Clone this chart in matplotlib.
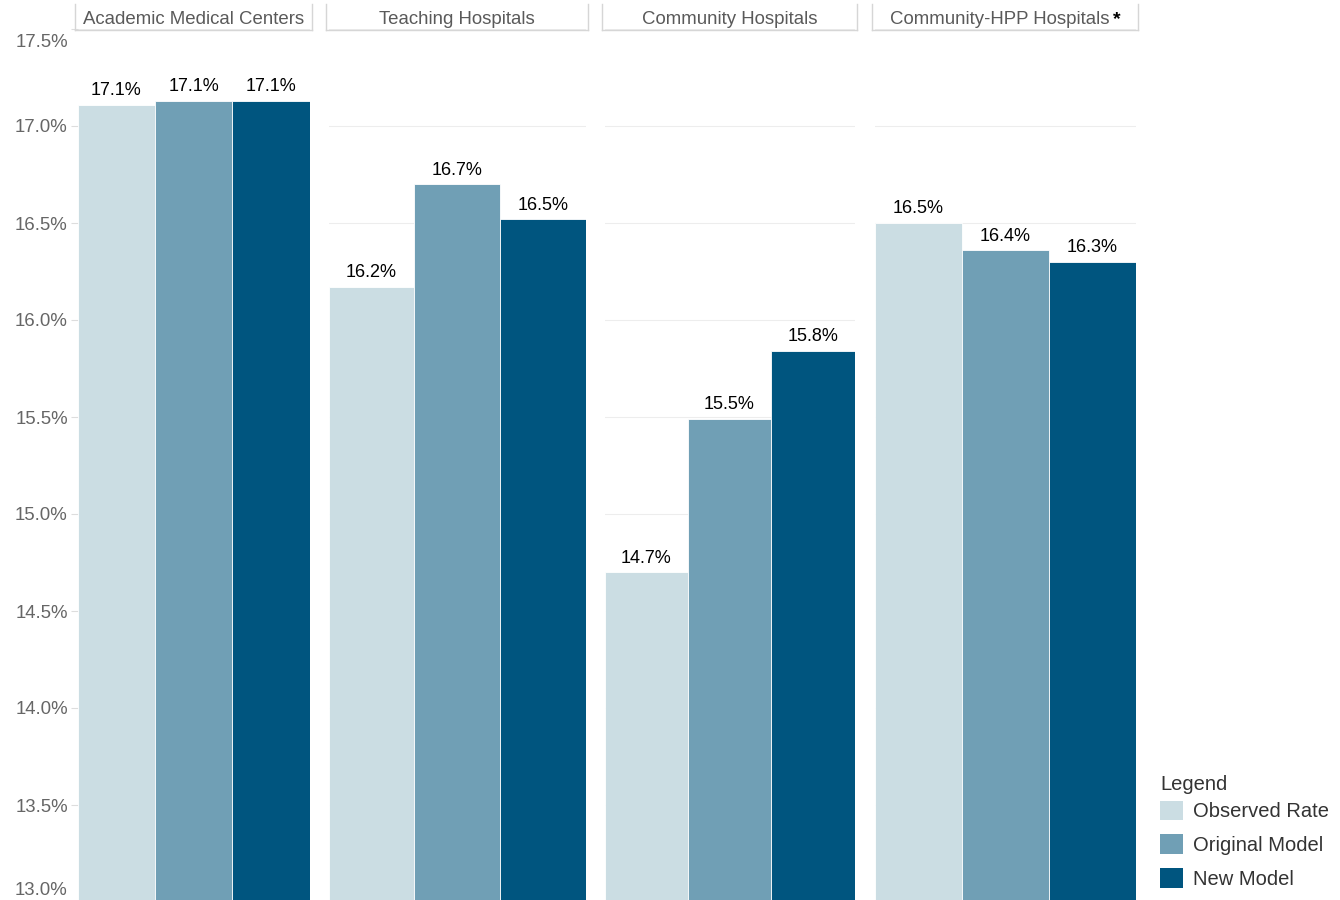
import matplotlib
matplotlib.use('Agg')
import matplotlib.pyplot as plt
import matplotlib.transforms as mtransforms
from matplotlib.patches import Patch
from matplotlib.lines import Line2D
import numpy as np

plt.rcParams['font.family'] = ['Liberation Sans', 'DejaVu Sans']

groups = ['Academic Medical Centers', 'Teaching Hospitals',
          'Community Hospitals', 'Community-HPP Hospitals']
measures = ['Observed Rate', 'Original Model', 'New Model']
observed = [17.11, 16.17, 14.70, 16.50]
original = [17.13, 16.70, 15.49, 16.36]
new_model = [17.13, 16.52, 15.84, 16.30]
flagged = [False, False, False, True]
yticks = np.arange(13.0, 17.51, 0.5)

colors = ['#cbdde3', '#709fb5', '#00557f']

W, H = 1340, 900
fig = plt.figure(figsize=(W / 100, H / 100), dpi=100)

# panel layout in pixels
panel_x = [(77.5, 309.5), (328.5, 585.5), (604.5, 854.5), (874.5, 1135.5)]
top_px, bottom_px = 29, 902
strip_top, strip_bot = 4, 30
strip_text_y = 20


def fx(px):
    return px / W


def fy(py):
    return (H - py) / H


axes = []
for i, (x0, x1) in enumerate(panel_x):
    ax = fig.add_axes([fx(x0), fy(bottom_px), (x1 - x0) / W, (bottom_px - top_px) / H])
    vals = [observed[i], original[i], new_model[i]]
    ax.bar(range(3), vals, width=1.0, color=colors, edgecolor='white',
           linewidth=0.6, zorder=2)
    for j, v in enumerate(vals):
        ax.annotate(f'{v:.1f}%', (j, v), xytext=(0, 4), textcoords='offset points',
                    ha='center', va='bottom', fontsize=13, color='black')
    ax.set_xlim(-0.5, 2.5)
    ax.set_ylim(13.0, 17.5)
    ax.set_yticks(yticks)
    ax.set_xticks([])
    ax.grid(axis='y', color='#ededed', linewidth=0.8)
    ax.set_axisbelow(True)
    for s in ax.spines.values():
        s.set_visible(False)
    if i == 0:
        ax.set_yticklabels([f'{t:.1f}%' for t in yticks])
        ax.tick_params(axis='y', length=5, width=0.8, color='#dddddd', pad=2,
                       labelsize=13.4, labelcolor='#666666')
        tl = ax.get_yticklabels()
        # keep the end labels inside the panel
        tl[0].set_va('bottom')
        tl[0].set_transform(tl[0].get_transform() +
                            mtransforms.ScaledTranslation(0, 3 / 100, fig.dpi_scale_trans))
        tl[-1].set_va('top')
        tl[-1].set_transform(tl[-1].get_transform() +
                             mtransforms.ScaledTranslation(0, -5 / 100, fig.dpi_scale_trans))
    else:
        ax.tick_params(axis='y', left=False, labelleft=False)
    axes.append(ax)

    # facet header
    sx0, sx1 = x0 - 2.5, x1 + 2.5
    for xs, ys in [([sx0, sx0], [strip_top, strip_bot]),
                   ([sx1, sx1], [strip_top, strip_bot]),
                   ([sx0, sx1], [strip_bot, strip_bot])]:
        fig.add_artist(Line2D([fx(x) for x in xs], [fy(y) for y in ys],
                              color='#d6d6d6', linewidth=1.0))
    cx = (sx0 + sx1) / 2 - (5 if flagged[i] else 0)
    t = fig.text(fx(cx), fy(strip_text_y), groups[i], ha='center', va='center',
                 fontsize=13.4, color='#5a5a5a')
    if flagged[i]:
        fig.canvas.draw()
        bb = t.get_window_extent()
        fig.text(fx(bb.x1 + 3), fy(strip_text_y), '*', ha='left', va='center',
                 fontsize=14, fontweight='bold', color='black')

handles = [Patch(facecolor=c, edgecolor='none', label=m) for c, m in zip(colors, measures)]
leg = fig.legend(handles=handles, title='Legend', loc='lower left',
                 bbox_to_anchor=(fx(1160), fy(889)), frameon=False,
                 fontsize=14.5, title_fontsize=14.5, handlelength=1.12,
                 handleheight=1.12, handletextpad=0.5, labelspacing=0.66,
                 alignment='left', borderpad=0, borderaxespad=0)
# tighter gap between the title and the entries
leg._legend_box.sep = 5.0
leg.get_title().set_color('#333333')
for txt in leg.get_texts():
    txt.set_color('#333333')

fig.savefig('out.png', dpi=100)
